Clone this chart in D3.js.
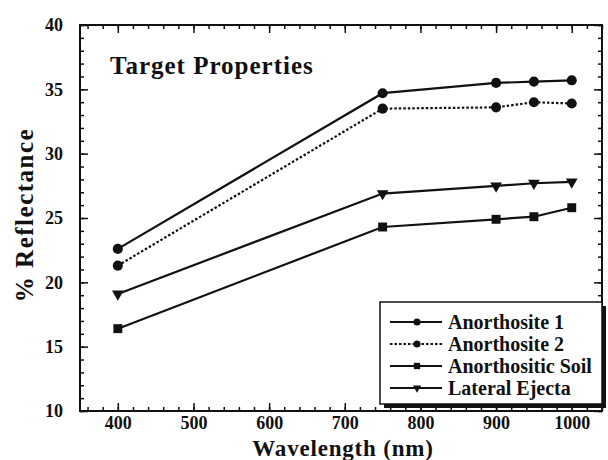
<!DOCTYPE html>
<html>
<head>
<meta charset="utf-8">
<script src="https://cdn.jsdelivr.net/npm/d3@7"></script>
<style>
  body { margin: 0; background: #fff; }
  svg text { font-family: "Liberation Serif", "Times New Roman", Times, "DejaVu Serif", serif !important; font-weight: bold; fill: #111; }
</style>
</head>
<body>
<div id="chart"></div>
<script>
// Wavelengths measured (nm)
const wavelengths = [400, 750, 900, 950, 1000];

// % reflectance per target
const anorthosite1 = [22.6, 34.7, 35.5, 35.6, 35.7];
const anorthosite2 = [21.3, 33.5, 33.6, 34.0, 33.9];
const anorthositicSoil = [16.4, 24.3, 24.9, 25.1, 25.8];
const lateralEjecta = [19.1, 26.9, 27.5, 27.7, 27.8];

const seriesNames = ['Anorthosite 1', 'Anorthosite 2', 'Anorthositic Soil', 'Lateral Ejecta'];
const seriesValues = [anorthosite1, anorthosite2, anorthositicSoil, lateralEjecta];
const seriesSymbols = ['circle', 'circle', 'square', 'triangle'];
const seriesDashed = [false, true, false, false];

const xTicks = [400, 500, 600, 700, 800, 900, 1000];
const yTicks = [10, 15, 20, 25, 30, 35, 40];

const C = {
  width: 608,
  height: 460,
  margin: {left: 80, right: 6, top: 25, bottom: 49},
  stroke: '#111',
  font: '"Liberation Serif", "Times New Roman", Times, serif',
};

const svg = d3.select('#chart').append('svg')
  .attr('width', C.width)
  .attr('height', C.height)
  .attr('font-family', C.font);

const X = d3.scaleLinear().domain([350, 1040])
  .range([C.margin.left, C.width - C.margin.right]);
const Y = d3.scaleLinear().domain([10, 40])
  .range([C.height - C.margin.bottom, C.margin.top]);

const [x0, x1] = X.range();
const [y1, y0] = Y.range();

// minor ticks every 20 nm and every 1 %
const xMinor = d3.range(360, 1041, 20);
const yMinor = d3.range(10, 41, 1);

// Axes drawn with inward ticks on all four sides
svg.append('g').attr('transform', `translate(0,${y1})`)
  .call(d3.axisBottom(X).tickValues(xMinor).tickSize(-4).tickFormat(''));
svg.append('g').attr('transform', `translate(0,${y1})`)
  .call(d3.axisBottom(X).tickValues(xTicks).tickSize(-8).tickPadding(5).tickFormat(d3.format('d')));
svg.append('g').attr('transform', `translate(0,${y0})`)
  .call(d3.axisTop(X).tickValues(xMinor).tickSize(-4).tickFormat(''));
svg.append('g').attr('transform', `translate(0,${y0})`)
  .call(d3.axisTop(X).tickValues(xTicks).tickSize(-8).tickFormat(''));

svg.append('g').attr('transform', `translate(${x0},0)`)
  .call(d3.axisLeft(Y).tickValues(yMinor).tickSize(-4).tickFormat(''));
svg.append('g').attr('transform', `translate(${x0},0)`)
  .call(d3.axisLeft(Y).tickValues(yTicks).tickSize(-8).tickPadding(17).tickFormat(d3.format('d')));
svg.append('g').attr('transform', `translate(${x1},0)`)
  .call(d3.axisRight(Y).tickValues(yMinor).tickSize(-4).tickFormat(''));
svg.append('g').attr('transform', `translate(${x1},0)`)
  .call(d3.axisRight(Y).tickValues(yTicks).tickSize(-8).tickFormat(''));

svg.selectAll('g').attr('font-family', null);
svg.selectAll('.domain').remove();
svg.selectAll('.tick line').attr('stroke', C.stroke).attr('stroke-width', 1.5);
svg.selectAll('.tick text').style('font-size', '18px').attr('fill', '#111');

svg.append('rect')
  .attr('x', x0).attr('y', y0)
  .attr('width', x1 - x0).attr('height', y1 - y0)
  .attr('fill', 'none').attr('stroke', C.stroke).attr('stroke-width', 2);

// Axis titles
svg.append('text')
  .attr('x', 343).attr('y', 456)
  .attr('text-anchor', 'middle')
  .style('font-size', '23px')
  .style('letter-spacing', '0.8px')
  .text('Wavelength (nm)');

svg.append('text')
  .attr('transform', `translate(33,${(y0 + y1) / 2 - 3}) rotate(-90)`)
  .attr('text-anchor', 'middle')
  .style('font-size', '25px')
  .style('letter-spacing', '1.5px')
  .text('% Reflectance');

svg.append('text')
  .attr('x', 110).attr('y', 74)
  .style('font-size', '25px')
  .style('letter-spacing', '1px')
  .text('Target Properties');

// Symbol helper
function symbolPath(type, scale){
  if(type === 'square') return d3.symbol(d3.symbolSquare, 80 * scale)();
  if(type === 'triangle') return d3.symbol(d3.symbolTriangle, 60 * scale)();
  return d3.symbol(d3.symbolCircle, 80 * scale)();
}

const line = d3.line()
  .x((d, i) => X(wavelengths[i]))
  .y(d => Y(d));

seriesValues.forEach((vals, s) => {
  svg.append('path')
    .datum(vals)
    .attr('d', line)
    .attr('fill', 'none')
    .attr('stroke', C.stroke)
    .attr('stroke-width', 2.2)
    .attr('stroke-dasharray', seriesDashed[s] ? '2.5,2' : null);

  svg.selectAll(null)
    .data(vals)
    .enter().append('path')
    .attr('d', symbolPath(seriesSymbols[s], 1))
    .attr('transform', (d, i) =>
      `translate(${X(wavelengths[i])},${Y(d)})` + (seriesSymbols[s] === 'triangle' ? ' rotate(180)' : ''))
    .attr('fill', C.stroke);
});

// Legend with drop shadow
const L = {x: 380, y: 302, w: 222, h: 102};
svg.append('rect')
  .attr('x', L.x + 4).attr('y', L.y + 4)
  .attr('width', L.w).attr('height', L.h)
  .attr('fill', C.stroke);
svg.append('rect')
  .attr('x', L.x).attr('y', L.y)
  .attr('width', L.w).attr('height', L.h)
  .attr('fill', '#fff').attr('stroke', C.stroke).attr('stroke-width', 1.5);

const legendRows = svg.selectAll('g.legend-row')
  .data(seriesNames)
  .enter().append('g')
  .attr('class', 'legend-row')
  .attr('transform', (d, i) => `translate(${L.x},${L.y + 20 + i * 22})`);

legendRows.append('line')
  .attr('x1', 10).attr('x2', 62)
  .attr('stroke', C.stroke).attr('stroke-width', 2)
  .attr('stroke-dasharray', (d, i) => seriesDashed[i] ? '2.5,2' : null);

legendRows.append('path')
  .attr('d', (d, i) => symbolPath(seriesSymbols[i], 0.5))
  .attr('transform', (d, i) => 'translate(37,0)' + (seriesSymbols[i] === 'triangle' ? ' rotate(180)' : ''))
  .attr('fill', C.stroke);

legendRows.append('text')
  .attr('x', 68).attr('dy', '0.35em')
  .style('font-size', '20px')
  .text(d => d);
</script>
</body>
</html>
